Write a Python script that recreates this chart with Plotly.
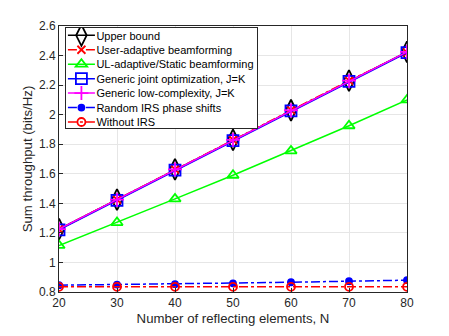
import plotly.graph_objects as go

N = [20, 30, 40, 50, 60, 70, 80]
upper_bound = [1.225, 1.425, 1.63, 1.83, 2.03, 2.23, 2.425]
user_adaptive = [1.225, 1.425, 1.63, 1.83, 2.03, 2.23, 2.42]
ul_adaptive = [1.115, 1.27, 1.43, 1.59, 1.755, 1.925, 2.10]
generic_joint = [1.22, 1.42, 1.625, 1.825, 2.025, 2.225, 2.42]
generic_lowc = [1.225, 1.425, 1.63, 1.83, 2.03, 2.23, 2.425]
random_irs = [0.846, 0.850, 0.853, 0.859, 0.866, 0.873, 0.880]
without_irs = [0.835, 0.835, 0.835, 0.835, 0.835, 0.835, 0.835]

series = [
    ("Upper bound", upper_bound, "black", "solid", "diamond-tall-open", 15, 1.5),
    ("User-adaptive beamforming", user_adaptive, "red", "dashdot", "x-thin-open", 8, 1.5),
    ("UL-adaptive/Static beamforming", ul_adaptive, "#00ff00", "solid", "triangle-up-open", 10, 1.5),
    ("Generic joint optimization, J=K", generic_joint, "blue", "solid", "square-open", 11, 1.5),
    ("Generic low-complexity, J=K", generic_lowc, "magenta", "solid", "cross-thin-open", 10, 1.5),
    ("Random IRS phase shifts", random_irs, "blue", "dashdot", "circle", 6, 1.5),
    ("Without IRS", without_irs, "red", "dashdot", "circle-open", 8, 1.5),
]

fig = go.Figure()
for name, y, color, dash, sym, size, w in series:
    fig.add_trace(go.Scatter(
        x=N, y=y, name=name, mode="lines+markers",
        line=dict(color=color, dash=dash, width=w),
        marker=dict(symbol=sym, size=size, color=color, line=dict(color=color, width=1.8)),
    ))

axis_common = dict(
    showline=True, linecolor="#262626", linewidth=1, mirror=True,
    showgrid=True, gridcolor="#e6e6e6", gridwidth=1,
    ticks="inside", ticklen=4, tickcolor="#262626",
    tickfont=dict(family="Liberation Sans, Arial", size=12, color="#262626"),
    zeroline=False,
)

fig.update_layout(
    width=449, height=336,
    margin=dict(l=59, r=42, t=26, b=38),
    paper_bgcolor="white", plot_bgcolor="white",
    font=dict(family="Liberation Sans, Arial", size=12, color="#262626"),
    xaxis=dict(range=[20, 80], tickvals=[20, 30, 40, 50, 60, 70, 80],
               title=dict(text="Number of reflecting elements, N", standoff=4,
                          font=dict(size=13.2, color="#262626")),
               **axis_common),
    yaxis=dict(range=[0.8, 2.6], tickvals=[0.8, 1.0, 1.2, 1.4, 1.6, 1.8, 2.0, 2.2, 2.4, 2.6],
               ticktext=["0.8", "1", "1.2", "1.4", "1.6", "1.8", "2", "2.2", "2.4", "2.6"],
               title=dict(text="Sum throughput (bits/Hz)", standoff=3,
                          font=dict(size=13.2, color="#262626")),
               **axis_common),
    legend=dict(x=0.017, y=0.997, xanchor="left", yanchor="top",
                bgcolor="white", bordercolor="#262626", borderwidth=1,
                font=dict(family="Liberation Sans, Arial", size=11, color="black"),
                tracegroupgap=0, itemwidth=30),
    showlegend=True,
)

post = """
document.body.style.margin = '0';
var gd = document.getElementById('{plot_id}');
function tighten() {
  var tr = gd.querySelectorAll('g.legend g.traces');
  var maxR = 0;
  tr.forEach(function(t, i) {
    var m = /translate\\(([^,]+),\\s*([^)]+)\\)/.exec(t.getAttribute('transform'));
    var x = m ? parseFloat(m[1]) : 0;
    var ny = 8.5 + i * 14.45;
    t.setAttribute('transform', 'translate(' + x + ',' + ny + ')');
    t.querySelectorAll('g.legendlines path').forEach(function(p) {
      p.setAttribute('d', 'M2,0h27');
    });
    t.querySelectorAll('g.legendpoints path').forEach(function(p) {
      p.setAttribute('transform', 'translate(15.5,0)');
    });
    var tx = t.querySelector('text.legendtext');
    if (tx) {
      tx.setAttribute('x', 30.5);
      tx.querySelectorAll('tspan').forEach(function(s){ if (s.getAttribute('x')) s.setAttribute('x', 30.5); });
      var bb = tx.getBBox();
      maxR = Math.max(maxR, x + bb.x + bb.width);
    }
  });
  var bg = gd.querySelector('g.legend rect.bg');
  if (bg) {
    bg.setAttribute('height', 8.5 * 2 + (tr.length - 1) * 14.45 - 2);
    bg.setAttribute('width', maxR + 3);
  }
}
tighten();
"""

fig.write_html("out.html", post_script=post, config={"displayModeBar": False})
